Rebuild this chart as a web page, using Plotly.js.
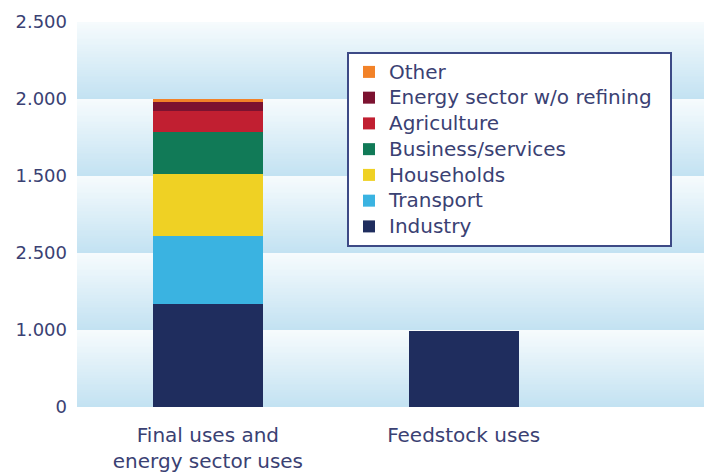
<!DOCTYPE html>
<html><head><meta charset="utf-8">
<script src="https://cdn.plot.ly/plotly-3.0.1.min.js"></script>
<style>html,body{margin:0;padding:0;background:#fff}#chart{width:704px;height:473px}</style>
</head><body><div id="chart"></div>
<script>
const categories = ["Final uses and<br>energy sector uses", "Feedstock uses"];
const seriesNames = ["Industry", "Transport", "Households", "Business/services", "Agriculture", "Energy sector w/o refining", "Other"];
const industry = [670, 495];
const transport = [440, 0];
const households = [403, 0];
const business = [273, 0];
const agriculture = [136, 0];
const energySector = [61, 0];
const other = [15, 0];
const tickVals = [0, 500, 1000, 1500, 2000, 2500];
const tickText = ["0", "1.000", "2.500", "1.500", "2.000", "2.500"];

const seriesValues = [industry, transport, households, business, agriculture, energySector, other];
const colors = ["#1f2d5e", "#3ab3e1", "#efd124", "#117a57", "#c11f31", "#7c1230", "#f28228"];

const traces = seriesNames.map((n, i) => ({
  type: 'bar', name: '<span style="font-size:20px">' + n + '\u00a0\u00a0</span>', x: categories, y: seriesValues[i],
  marker: {color: colors[i], line: {width: 0}}, hoverinfo: 'skip'
}));

// background gradient bands between ticks (overlapping rects, lighter toward top)
function mix(a, b, t) {
  const pa = [parseInt(a.slice(1,3),16), parseInt(a.slice(3,5),16), parseInt(a.slice(5,7),16)];
  const pb = [parseInt(b.slice(1,3),16), parseInt(b.slice(3,5),16), parseInt(b.slice(5,7),16)];
  return 'rgb(' + pa.map((v, k) => Math.round(v + (pb[k] - v) * t)).join(',') + ')';
}
const shapes = [];
const N = 40;
for (let i = 0; i < tickVals.length - 1; i++) {
  const lo = tickVals[i], hi = tickVals[i + 1];
  for (let j = 0; j < N; j++) {
    const f = j / (N - 1);
    shapes.push({type: 'rect', xref: 'paper', yref: 'y', layer: 'below',
      x0: 0, x1: 1, y0: lo + (hi - lo) * j / N, y1: hi,
      fillcolor: mix('#c3e2f2', '#f6fbfd', f), line: {width: 0}});
  }
}

const txt = '#3a4173';
const fam = 'DejaVu Sans, Verdana, sans-serif';
const layout = {
  width: 704, height: 473,
  margin: {l: 77, r: 0, t: 22, b: 66},
  paper_bgcolor: '#ffffff', plot_bgcolor: 'rgba(0,0,0,0)',
  barmode: 'stack', bargap: 0.57,
  showlegend: true,
  font: {family: fam, color: txt},
  xaxis: {range: [-0.512, 1.94], showgrid: false, zeroline: false, showline: false, ticks: '',
    tickfont: {size: 20, color: txt, family: fam}, ticklabelstandoff: 14, fixedrange: true},
  yaxis: {range: [0, 2500], tickvals: tickVals, ticktext: tickText, showgrid: false, zeroline: false,
    showline: false, ticks: '', tickfont: {size: 18, color: txt, family: fam}, ticklabelstandoff: 9, fixedrange: true},
  legend: {x: 0.4306, y: 0.922, xanchor: 'left', yanchor: 'top', bgcolor: '#ffffff',
    bordercolor: '#3d4a86', borderwidth: 2, traceorder: 'reversed',
    font: {size: 17.5, color: txt, family: fam}, tracegroupgap: 0},
  shapes: shapes
};
Plotly.newPlot('chart', traces, layout, {displayModeBar: false, staticPlot: true});
</script></body></html>
